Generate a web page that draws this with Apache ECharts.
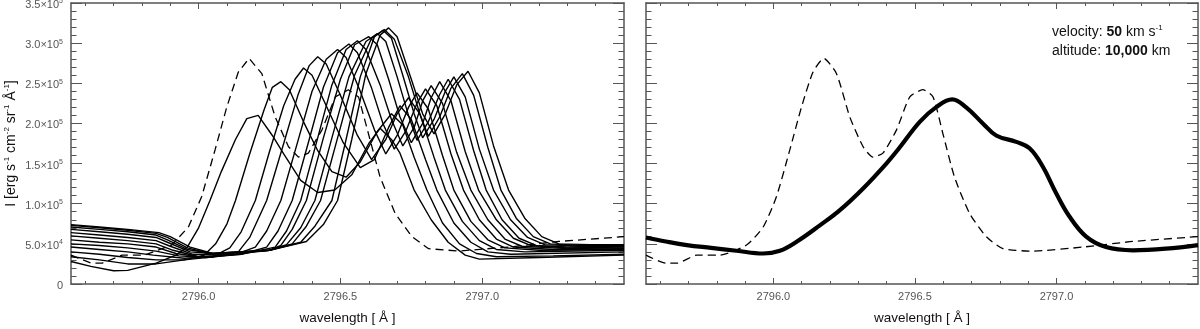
<!DOCTYPE html>
<html><head><meta charset="utf-8">
<script src="https://cdn.jsdelivr.net/npm/echarts@6/dist/echarts.min.js"></script>
<style>html,body{margin:0;padding:0;background:#fff;overflow:hidden}#c{width:1200px;height:329px}</style>
</head><body><div id="c"></div><script>
// ---- axis ranges and tick labels ----
const xMin = 2795.55, xMax = 2797.5;
const xMajorTicks = [2796.0, 2796.5, 2797.0];
const xMinorTicks = [2795.6,2795.7,2795.8,2795.9,2796.1,2796.2,2796.3,2796.4,2796.6,2796.7,2796.8,2796.9,2797.1,2797.2,2797.3,2797.4];
const yMax = 350000, yStep = 50000;

// ---- data: [wavelength (Å), intensity (×1e5)] ----
const reference = [[2795.55,0.36],[2795.62,0.26],[2795.66,0.26],[2795.73,0.36],[2795.81,0.36],[2795.905,0.485],[2795.964,0.71],[2796.011,1.09],[2796.058,1.67],[2796.099,2.20],[2796.14,2.64],[2796.178,2.81],[2796.223,2.62],[2796.27,2.08],[2796.317,1.71],[2796.352,1.58],[2796.387,1.63],[2796.435,1.92],[2796.482,2.33],[2796.528,2.42],[2796.564,2.33],[2796.599,1.87],[2796.64,1.33],[2796.693,0.88],[2796.752,0.59],[2796.811,0.44],[2796.917,0.41],[2797.093,0.46],[2797.27,0.53],[2797.5,0.59]];

const profile0 = [[2795.55,0.28],[2795.62,0.22],[2795.70,0.165],[2795.75,0.17],[2795.85,0.26],[2795.92,0.36],[2795.96,0.46],[2796.00,0.70],[2796.04,1.04],[2796.08,1.40],[2796.13,1.80],[2796.17,2.06],[2796.21,2.10],[2796.26,1.85],[2796.30,1.62],[2796.36,1.29],[2796.42,1.14],[2796.48,1.17],[2796.54,1.36],[2796.60,1.75],[2796.64,1.94],[2796.68,1.80],[2796.71,1.63],[2796.76,1.17],[2796.82,0.80],[2796.88,0.52],[2796.94,0.36],[2796.99,0.31],[2797.2,0.33],[2797.5,0.36]];
const profile1 = [[2795.55,0.34],[2795.65,0.30],[2795.75,0.25],[2795.85,0.25],[2795.95,0.30],[2796.02,0.36],[2796.06,0.50],[2796.10,0.75],[2796.13,1.04],[2796.18,1.62],[2796.23,2.16],[2796.26,2.45],[2796.29,2.52],[2796.32,2.42],[2796.37,2.02],[2796.42,1.66],[2796.47,1.40],[2796.52,1.33],[2796.57,1.52],[2796.63,1.90],[2796.68,2.12],[2796.72,1.98],[2796.76,1.58],[2796.805,1.17],[2796.86,0.76],[2796.92,0.50],[2796.98,0.38],[2797.05,0.34],[2797.25,0.35],[2797.5,0.37]];
const profile2 = [[2795.55,0.40],[2795.65,0.37],[2795.75,0.33],[2795.85,0.30],[2795.95,0.30],[2796.05,0.34],[2796.11,0.45],[2796.15,0.65],[2796.20,1.04],[2796.25,1.65],[2796.30,2.22],[2796.34,2.55],[2796.37,2.69],[2796.40,2.60],[2796.45,2.22],[2796.51,1.76],[2796.57,1.45],[2796.62,1.55],[2796.67,1.95],[2796.71,2.22],[2796.75,2.05],[2796.80,1.55],[2796.84,1.17],[2796.90,0.76],[2796.96,0.52],[2797.02,0.40],[2797.10,0.37],[2797.5,0.40]];
const profile3 = [[2795.55,0.46],[2795.65,0.43],[2795.75,0.40],[2795.84,0.36],[2795.95,0.32],[2796.05,0.34],[2796.14,0.40],[2796.18,0.58],[2796.24,1.04],[2796.30,1.75],[2796.35,2.35],[2796.39,2.72],[2796.42,2.83],[2796.45,2.74],[2796.50,2.35],[2796.56,1.85],[2796.61,1.55],[2796.66,1.80],[2796.70,2.12],[2796.74,2.32],[2796.78,2.12],[2796.83,1.58],[2796.87,1.17],[2796.93,0.78],[2796.99,0.54],[2797.05,0.43],[2797.15,0.40],[2797.5,0.42]];
const profile4 = [[2795.55,0.50],[2795.65,0.48],[2795.75,0.45],[2795.85,0.41],[2795.93,0.35],[2796.03,0.33],[2796.13,0.37],[2796.20,0.46],[2796.24,0.66],[2796.29,1.04],[2796.35,1.78],[2796.40,2.40],[2796.45,2.80],[2796.49,2.92],[2796.52,2.82],[2796.57,2.40],[2796.62,1.92],[2796.66,1.62],[2796.70,1.85],[2796.74,2.20],[2796.77,2.38],[2796.81,2.18],[2796.86,1.60],[2796.90,1.17],[2796.96,0.78],[2797.02,0.55],[2797.08,0.45],[2797.2,0.42],[2797.5,0.43]];
const profile5 = [[2795.55,0.55],[2795.65,0.52],[2795.75,0.50],[2795.85,0.46],[2795.92,0.38],[2796.02,0.33],[2796.15,0.37],[2796.24,0.46],[2796.28,0.66],[2796.33,1.04],[2796.39,1.80],[2796.44,2.45],[2796.49,2.88],[2796.53,2.99],[2796.56,2.88],[2796.61,2.44],[2796.65,2.00],[2796.69,1.68],[2796.73,1.90],[2796.77,2.25],[2796.80,2.43],[2796.84,2.22],[2796.89,1.62],[2796.934,1.17],[2796.99,0.80],[2797.05,0.56],[2797.11,0.46],[2797.25,0.43],[2797.5,0.44]];
const profile6 = [[2795.55,0.60],[2795.65,0.57],[2795.75,0.54],[2795.85,0.50],[2795.91,0.42],[2796.00,0.34],[2796.15,0.37],[2796.27,0.46],[2796.31,0.66],[2796.36,1.04],[2796.42,1.82],[2796.47,2.48],[2796.52,2.92],[2796.56,3.03],[2796.59,2.92],[2796.64,2.48],[2796.68,2.05],[2796.72,1.72],[2796.76,1.95],[2796.79,2.28],[2796.82,2.47],[2796.86,2.25],[2796.91,1.64],[2796.96,1.17],[2797.02,0.80],[2797.08,0.56],[2797.14,0.47],[2797.3,0.44],[2797.5,0.45]];
const profile7 = [[2795.55,0.64],[2795.65,0.61],[2795.75,0.58],[2795.85,0.54],[2795.90,0.47],[2795.98,0.37],[2796.10,0.36],[2796.25,0.42],[2796.29,0.48],[2796.33,0.68],[2796.38,1.04],[2796.44,1.82],[2796.50,2.55],[2796.55,2.98],[2796.60,3.08],[2796.63,2.98],[2796.67,2.55],[2796.71,2.08],[2796.75,1.76],[2796.79,2.00],[2796.82,2.32],[2796.85,2.52],[2796.89,2.28],[2796.94,1.65],[2796.987,1.17],[2797.05,0.80],[2797.11,0.57],[2797.17,0.48],[2797.3,0.45],[2797.5,0.46]];
const profile8 = [[2795.55,0.68],[2795.65,0.65],[2795.75,0.62],[2795.85,0.58],[2795.89,0.52],[2795.97,0.40],[2796.08,0.37],[2796.25,0.42],[2796.31,0.49],[2796.36,0.70],[2796.41,1.04],[2796.47,1.82],[2796.53,2.58],[2796.59,3.02],[2796.63,3.12],[2796.66,3.02],[2796.70,2.58],[2796.74,2.10],[2796.77,1.79],[2796.81,2.02],[2796.85,2.36],[2796.88,2.55],[2796.92,2.30],[2796.97,1.66],[2797.014,1.17],[2797.07,0.80],[2797.13,0.57],[2797.19,0.48],[2797.3,0.46],[2797.5,0.47]];
const profile9 = [[2795.55,0.71],[2795.65,0.68],[2795.75,0.65],[2795.85,0.61],[2795.89,0.55],[2795.96,0.43],[2796.05,0.38],[2796.25,0.42],[2796.33,0.50],[2796.38,0.72],[2796.43,1.04],[2796.49,1.82],[2796.55,2.60],[2796.61,3.06],[2796.65,3.16],[2796.68,3.06],[2796.72,2.60],[2796.76,2.12],[2796.79,1.82],[2796.83,2.05],[2796.87,2.40],[2796.90,2.58],[2796.94,2.33],[2796.99,1.68],[2797.04,1.17],[2797.10,0.80],[2797.16,0.58],[2797.22,0.49],[2797.35,0.47],[2797.5,0.47]];
const profile10 = [[2795.55,0.73],[2795.65,0.70],[2795.75,0.67],[2795.85,0.63],[2795.89,0.58],[2795.96,0.45],[2796.04,0.38],[2796.25,0.42],[2796.36,0.52],[2796.41,0.72],[2796.47,1.04],[2796.52,1.80],[2796.57,2.58],[2796.62,3.08],[2796.655,3.17],[2796.69,3.05],[2796.74,2.58],[2796.78,2.12],[2796.81,1.84],[2796.85,2.08],[2796.89,2.44],[2796.93,2.62],[2796.97,2.35],[2797.02,1.70],[2797.066,1.17],[2797.12,0.82],[2797.18,0.59],[2797.24,0.50],[2797.35,0.48],[2797.5,0.48]];
const profile11 = [[2795.55,0.74],[2795.65,0.71],[2795.75,0.68],[2795.86,0.64],[2795.90,0.59],[2795.97,0.46],[2796.05,0.38],[2796.25,0.42],[2796.38,0.53],[2796.44,0.74],[2796.49,1.04],[2796.54,1.80],[2796.59,2.62],[2796.64,3.10],[2796.67,3.19],[2796.70,3.08],[2796.75,2.55],[2796.79,2.12],[2796.83,1.87],[2796.87,2.12],[2796.91,2.48],[2796.95,2.65],[2796.99,2.38],[2797.04,1.72],[2797.093,1.17],[2797.15,0.82],[2797.21,0.59],[2797.27,0.50],[2797.38,0.49],[2797.5,0.49]];
const profiles = [profile0,profile1,profile2,profile3,profile4,profile5,profile6,profile7,profile8,profile9,profile10,profile11];

const combined = [[2795.55,0.58],[2795.62,0.53],[2795.694,0.485],[2795.78,0.45],[2795.87,0.414],[2795.964,0.38],[2796.023,0.414],[2796.082,0.526],[2796.164,0.73],[2796.235,0.92],[2796.317,1.19],[2796.399,1.50],[2796.446,1.70],[2796.517,2.02],[2796.574,2.20],[2796.632,2.30],[2796.681,2.20],[2796.74,2.00],[2796.787,1.85],[2796.858,1.77],[2796.905,1.69],[2796.952,1.46],[2796.999,1.13],[2797.046,0.84],[2797.105,0.59],[2797.175,0.46],[2797.27,0.42],[2797.387,0.44],[2797.5,0.485]];

// ---- build chart ----
const UNIT = 1e5;
const toPts = a => a.map(p => [p[0], p[1]*UNIT]);
const AX = '#555';
const FONT = 'Liberation Sans, Arial, sans-serif';

function yLabel(v){
  if (v === 0) return '0';
  const e = Math.floor(Math.log10(v) + 1e-9);
  const m = v / Math.pow(10, e);
  return m.toFixed(1) + '×10{sup|' + e + '}';
}

function tickStyle(){ return {color:AX, width:1}; }

function xAxesFor(gridIndex){
  const mk = (extra) => Object.assign({type:'value', gridIndex:gridIndex, min:xMin, max:xMax, splitLine:{show:false}}, extra);
  return [
    mk({position:'bottom',
      axisLine:{show:true, onZero:false, lineStyle:{color:AX, width:1.5}},
      axisTick:{show:true, inside:true, length:6, customValues:xMajorTicks.slice(), lineStyle:tickStyle()},
      axisLabel:{show:true, customValues:xMajorTicks.slice(), formatter:v=>v.toFixed(1), color:'#555', fontSize:11, fontFamily:FONT, margin:7},
      name:'wavelength [ Å ]', nameLocation:'middle', nameGap:27,
      nameTextStyle:{color:'#111', fontSize:13.5, fontFamily:FONT}}),
    mk({position:'bottom',
      axisLine:{show:false, onZero:false},
      axisTick:{show:true, inside:true, length:3, customValues:xMinorTicks.slice(), lineStyle:tickStyle()},
      axisLabel:{show:false}}),
    mk({position:'top',
      axisLine:{show:true, onZero:false, lineStyle:{color:AX, width:1.5}},
      axisTick:{show:true, inside:true, length:6, customValues:xMajorTicks.slice(), lineStyle:tickStyle()},
      axisLabel:{show:false}}),
    mk({position:'top',
      axisLine:{show:false, onZero:false},
      axisTick:{show:true, inside:true, length:3, customValues:xMinorTicks.slice(), lineStyle:tickStyle()},
      axisLabel:{show:false}})
  ];
}
function yAxesFor(gridIndex, labels){
  const mk = (extra) => Object.assign({type:'value', gridIndex:gridIndex, min:0, max:yMax, interval:yStep, splitLine:{show:false},
    axisLine:{show:true, onZero:false, lineStyle:{color:AX, width:1.5}},
    axisTick:{show:true, inside:true, length:11, lineStyle:tickStyle()},
    minorTick:{show:true, splitNumber:5, length:5.5, lineStyle:tickStyle()}}, extra);
  const left = mk({position:'left',
    axisLabel: labels ? {show:true, formatter:yLabel, color:'#555', fontSize:11, fontFamily:FONT, margin:8, padding:[4,0,0,0],
      rich:{sup:{fontSize:7, color:'#555', fontFamily:FONT, padding:[0,0,7,0]}}} : {show:false}});
  if (labels) {
    left.name = 'I [erg s{sup|-1} cm{sup|-2} sr{sup|-1} Å{sup|-1}]';
    left.nameLocation = 'middle';
    left.nameGap = 52;
    left.nameRotate = 90;
    left.nameTextStyle = {color:'#111', fontSize:14, fontFamily:FONT,
      rich:{sup:{fontSize:8, color:'#111', fontFamily:FONT, padding:[0,0,8,0]}}};
  }
  const right = mk({position:'right', axisLabel:{show:false}});
  return [left, right];
}

const series = [];
profiles.forEach(p => series.push({type:'line', xAxisIndex:0, yAxisIndex:0, data:toPts(p), showSymbol:false,
  lineStyle:{color:'#000', width:1.4}, silent:true}));
series.push({type:'line', xAxisIndex:0, yAxisIndex:0, data:toPts(reference), showSymbol:false,
  lineStyle:{color:'#000', width:1.3, type:[8,5]}, silent:true});
series.push({type:'line', xAxisIndex:4, yAxisIndex:2, data:toPts(reference), showSymbol:false, smooth:0.2,
  lineStyle:{color:'#000', width:1.3, type:[8,5]}, silent:true});
series.push({type:'line', xAxisIndex:4, yAxisIndex:2, data:toPts(combined), showSymbol:false, smooth:0.4,
  lineStyle:{color:'#000', width:4.2}, silent:true});

const chart = echarts.init(document.getElementById('c'), null, {renderer:'canvas'});
chart.setOption({
  animation:false,
  backgroundColor:'#fff',
  grid:[
    {left:71, right:576, top:3, bottom:45, outerBoundsMode:'none'},
    {left:646, right:2, top:3, bottom:45, outerBoundsMode:'none'}
  ],
  xAxis: xAxesFor(0).concat(xAxesFor(1)),
  yAxis: yAxesFor(0, true).concat(yAxesFor(1, false)),
  graphic:[
    {type:'text', left:1052, top:24, style:{text:'{n|velocity: }{b|50}{n| km s}{s|-1}',
      rich:{n:{fontSize:14, fontFamily:FONT, fill:'#111'}, b:{fontSize:14, fontWeight:'bold', fontFamily:FONT, fill:'#111'}, s:{fontSize:8, fontFamily:FONT, fill:'#111', padding:[0,0,8,0]}}}},
    {type:'text', left:1052, top:44, style:{text:'{n|altitude: }{b|10,000}{n| km}',
      rich:{n:{fontSize:14, fontFamily:FONT, fill:'#111'}, b:{fontSize:14, fontWeight:'bold', fontFamily:FONT, fill:'#111'}}}}
  ],
  series
});
</script></body></html>
